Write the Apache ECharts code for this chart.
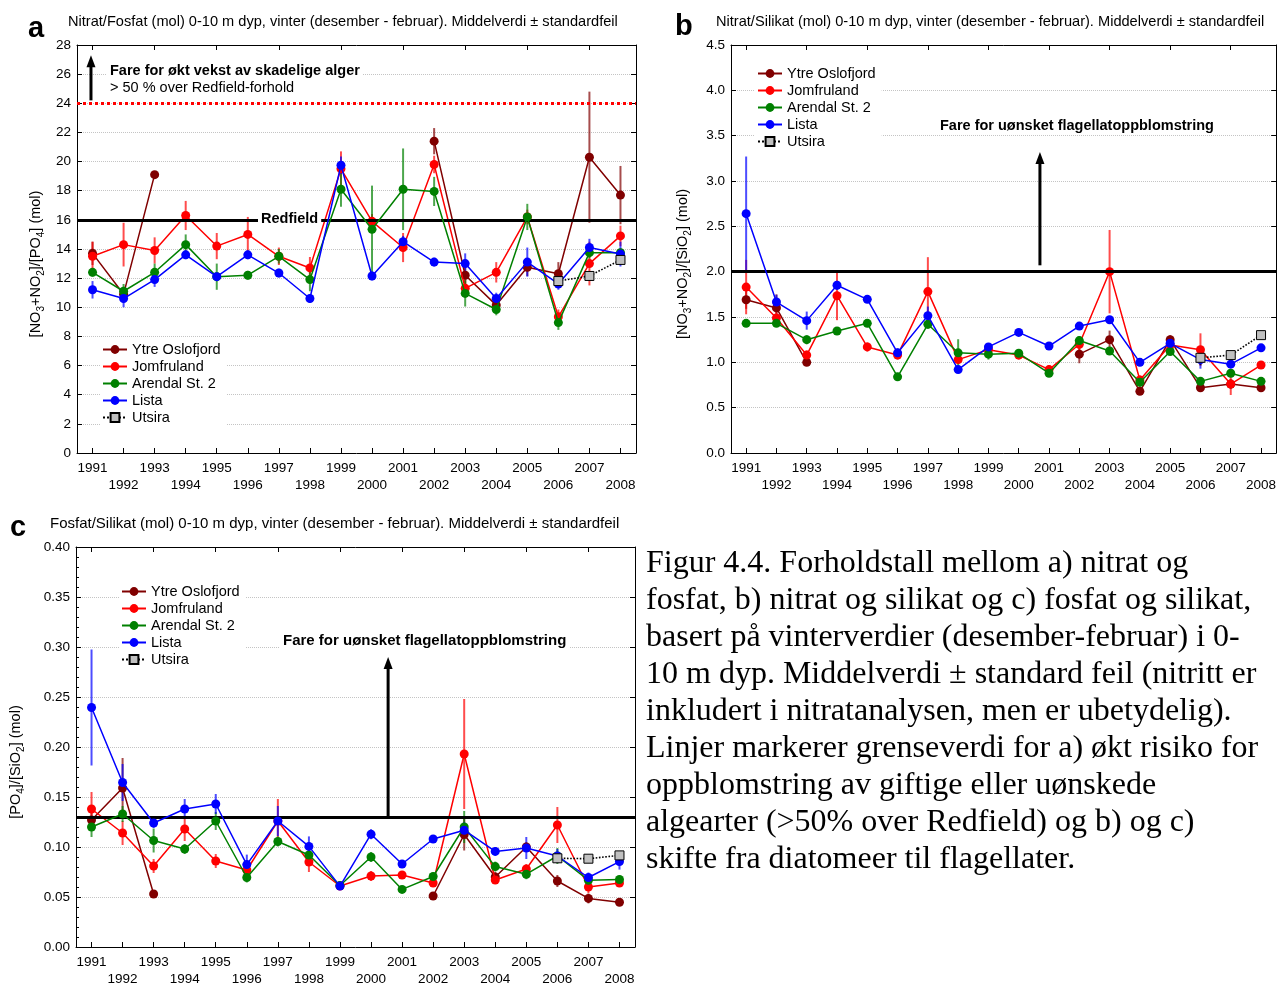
<!DOCTYPE html>
<html>
<head>
<meta charset="utf-8">
<script src="https://cdn.jsdelivr.net/npm/echarts@6/dist/echarts.min.js"></script>
<style>html,body{margin:0;padding:0;background:#fff}#c{width:1279px;height:988px}</style>
</head>
<body>
<div id="c"></div>
<script>
// ---------- data ----------
const years = ['1991','1992','1993','1994','1995','1996','1997','1998','1999','2000','2001','2002','2003','2004','2005','2006','2007','2008'];
const stations = ['Ytre Oslofjord','Jomfruland','Arendal St. 2','Lista','Utsira'];
const N = null;

// Panel a: Nitrat/Fosfat
const a_ytre    = [13.7, 10.9, 19.1, N, N, N, N, N, N, N, N, 21.4, 12.2, 10.15, 12.75, 12.3, 20.3, 17.7];
const a_ytreE   = [0.8, 0.4, 0.2, N, N, N, N, N, N, N, N, 0.9, 0.6, 0.3, 0.6, 0.8, 4.5, 2.0];
const a_jomf    = [13.5, 14.3, 13.9, 16.3, 14.2, 15.0, 13.5, 12.7, 19.5, 15.9, 14.1, 19.8, 11.3, 12.4, 16.2, 9.35, 13.0, 14.9];
const a_jomfE   = [1.0, 1.5, 0.9, 1.0, 0.9, 1.2, 0.6, 0.75, 1.2, 0.5, 1.0, 0.6, 0.6, 0.7, 0.5, 0.5, 1.5, 0.7];
const a_aren    = [12.4, 11.1, 12.4, 14.3, 12.1, 12.2, 13.5, 11.9, 18.1, 15.35, 18.1, 17.95, 10.95, 9.85, 16.2, 8.95, 13.75, 13.75];
const a_arenE   = [0.3, 0.5, 0.6, 0.7, 0.9, 0.3, 0.5, 0.8, 1.2, 3.0, 2.8, 1.0, 0.9, 0.4, 0.9, 0.5, 0.4, 0.3];
const a_lista   = [11.2, 10.6, 11.9, 13.6, 12.1, 13.6, 12.35, 10.6, 19.75, 12.15, 14.5, 13.1, 13.0, 10.6, 13.1, 11.6, 14.1, 13.65];
const a_listaE  = [0.6, 0.6, 0.5, 0.3, 0.3, 0.3, 0.3, 0.3, 0.6, 0.3, 0.4, 0.3, 0.7, 0.4, 1.0, 0.4, 0.6, 0.85];
const a_utsira  = [N, N, N, N, N, N, N, N, N, N, N, N, N, N, N, 11.8, 12.15, 13.25];
const a_utsiraE = [N, N, N, N, N, N, N, N, N, N, N, N, N, N, N, 0.3, 0.2, 0.2];

// Panel b: Nitrat/Silikat
const b_ytre    = [1.69, 1.60, 1.0, N, N, N, N, N, N, N, N, 1.09, 1.25, 0.68, 1.25, 0.72, 0.76, 0.72];
const b_ytreE   = [0.1, 0.15, 0.03, N, N, N, N, N, N, N, N, 0.1, 0.1, 0.03, 0.05, 0.03, 0.05, 0.03];
const b_jomf    = [1.83, 1.49, 1.08, 1.735, 1.17, 1.08, 1.78, 1.03, 1.14, 1.08, 0.92, 1.2, 2.0, 0.805, 1.19, 1.14, 0.76, 0.97];
const b_jomfE   = [0.3, 0.1, 0.05, 0.27, 0.05, 0.05, 0.38, 0.05, 0.05, 0.05, 0.05, 0.07, 0.46, 0.05, 0.05, 0.18, 0.12, 0.04];
const b_aren    = [1.43, 1.43, 1.25, 1.345, 1.43, 0.84, 1.42, 1.105, 1.09, 1.10, 0.88, 1.24, 1.125, 0.78, 1.12, 0.79, 0.88, 0.79];
const b_arenE   = [0.02, 0.03, 0.05, 0.03, 0.03, 0.04, 0.05, 0.15, 0.06, 0.03, 0.03, 0.05, 0.03, 0.05, 0.03, 0.03, 0.03, 0.03];
const b_lista   = [2.64, 1.665, 1.46, 1.85, 1.695, 1.105, 1.515, 0.92, 1.17, 1.33, 1.18, 1.40, 1.47, 1.0, 1.21, 1.03, 0.98, 1.16];
const b_listaE  = [0.63, 0.08, 0.1, 0.05, 0.03, 0.05, 0.1, 0.03, 0.03, 0.02, 0.02, 0.02, 0.03, 0.03, 0.04, 0.1, 0.03, 0.03];
const b_utsira  = [N, N, N, N, N, N, N, N, N, N, N, N, N, N, N, 1.05, 1.08, 1.30];
const b_utsiraE = [N, N, N, N, N, N, N, N, N, N, N, N, N, N, N, 0.08, 0.03, 0.03];

// Panel c: Fosfat/Silikat
const c_ytre    = [0.127, 0.159, 0.053, N, N, N, N, N, N, N, N, 0.051, 0.1125, 0.070, 0.100, 0.066, 0.0486, 0.0447];
const c_ytreE   = [0.01, 0.03, 0.004, N, N, N, N, N, N, N, N, 0.004, 0.016, 0.005, 0.005, 0.006, 0.005, 0.003];
const c_jomf    = [0.138, 0.114, 0.081, 0.118, 0.086, 0.077, 0.126, 0.085, 0.061, 0.071, 0.072, 0.064, 0.193, 0.067, 0.078, 0.122, 0.060, 0.064];
const c_jomfE   = [0.017, 0.012, 0.007, 0.012, 0.007, 0.005, 0.022, 0.01, 0.004, 0.005, 0.004, 0.004, 0.055, 0.004, 0.005, 0.018, 0.006, 0.004];
const c_aren    = [0.120, 0.133, 0.1065, 0.098, 0.126, 0.0695, 0.1055, 0.092, 0.0615, 0.090, 0.0576, 0.0705, 0.120, 0.0804, 0.0728, 0.091, 0.0668, 0.0675];
const c_arenE   = [0.01, 0.008, 0.012, 0.005, 0.009, 0.005, 0.005, 0.005, 0.003, 0.005, 0.003, 0.004, 0.016, 0.005, 0.005, 0.008, 0.004, 0.004];
const c_lista   = [0.2395, 0.1645, 0.124, 0.138, 0.143, 0.0824, 0.126, 0.1006, 0.0609, 0.1128, 0.083, 0.108, 0.1168, 0.0956, 0.099, 0.091, 0.0695, 0.0854];
const c_listaE  = [0.058, 0.0185, 0.005, 0.01, 0.01, 0.01, 0.015, 0.01, 0.003, 0.005, 0.004, 0.004, 0.008, 0.004, 0.011, 0.007, 0.005, 0.008];
const c_utsira  = [N, N, N, N, N, N, N, N, N, N, N, N, N, N, N, 0.0887, 0.0883, 0.0916];
const c_utsiraE = [N, N, N, N, N, N, N, N, N, N, N, N, N, N, N, 0.004, 0.002, 0.002];

// thresholds
const a_redfield = 16, a_danger = 24, b_limit = 2.0, c_limit = 0.128;

const titles = [
  'Nitrat/Fosfat (mol) 0-10 m dyp, vinter (desember - februar). Middelverdi \u00b1 standardfeil',
  'Nitrat/Silikat (mol) 0-10 m dyp, vinter (desember - februar). Middelverdi \u00b1 standardfeil',
  'Fosfat/Silikat (mol) 0-10 m dyp, vinter (desember - februar). Middelverdi \u00b1 standardfeil'
];
const caption = [
  'Figur 4.4. Forholdstall mellom a) nitrat og',
  'fosfat, b) nitrat og silikat og c) fosfat og silikat,',
  'basert p\u00e5 vinterverdier (desember-februar) i 0-',
  '10 m dyp. Middelverdi \u00b1 standard feil (nitritt er',
  'inkludert i nitratanalysen, men er ubetydelig).',
  'Linjer markerer grenseverdi for a) \u00f8kt risiko for',
  'oppblomstring av giftige eller u\u00f8nskede',
  'algearter (>50% over Redfield) og b) og c)',
  'skifte fra diatomeer til flagellater.'
];

// ---------- styling ----------
const colors = ['#800000', '#ff0000', '#008000', '#0000ff', '#000000'];
const FONT = '"Liberation Sans", Arial, sans-serif';

const grids = [
  {left: 77, top: 45, width: 559, height: 408},
  {left: 731, top: 45, width: 547, height: 408},
  {left: 76, top: 547, width: 559, height: 403}
];
const yCfg = [
  {min: 0, max: 28, interval: 2, fmt: v => String(v), gap: 31, name: '[NO{s|3}+NO{s|2}]/[PO{s|4}] (mol)'},
  {min: 0, max: 4.5, interval: 0.5, fmt: v => v.toFixed(1), gap: 38, name: '[NO{s|3}+NO{s|2}]/[SiO{s|2}] (mol)'},
  {min: 0, max: 0.4, interval: 0.05, fmt: v => v.toFixed(2), gap: 50, name: '[PO{s|4}]/[SiO{s|2}] (mol)', minor: true}
];

const xAxes = [], yAxes = [];
grids.forEach((g, i) => {
  xAxes.push({
    gridIndex: i, type: 'category', data: years, boundaryGap: true, position: 'bottom',
    axisLine: {onZero: false, lineStyle: {color: '#000', width: 1}},
    axisTick: {show: true, inside: true, alignWithLabel: true, length: 5, lineStyle: {color: '#000'}},
    axisLabel: {interval: 0, color: '#000', fontSize: 13.5, fontFamily: FONT, margin: 7, lineHeight: 17,
      formatter: (v, idx) => idx % 2 === 0 ? v : '\n' + v},
    splitLine: {show: false}
  });
  xAxes.push({
    gridIndex: i, type: 'category', data: years, boundaryGap: true, position: 'top',
    axisLine: {onZero: false, lineStyle: {color: '#000', width: 1}},
    axisTick: {show: true, inside: true, alignWithLabel: true, length: 5, lineStyle: {color: '#000'}},
    axisLabel: {show: false}, splitLine: {show: false}
  });
  const c = yCfg[i];
  yAxes.push({
    gridIndex: i, type: 'value', min: c.min, max: c.max, interval: c.interval, position: 'left',
    axisLine: {show: true, lineStyle: {color: '#000', width: 1}},
    axisTick: {show: true, inside: true, length: 5, lineStyle: {color: '#000'}},
    minorTick: {show: !!c.minor, splitNumber: 5, length: 3, lineStyle: {color: '#000'}},
    axisLabel: {color: '#000', fontSize: 13.5, fontFamily: FONT, margin: 6, formatter: c.fmt},
    splitLine: {show: true, lineStyle: {color: '#c4c4c4', type: 'dotted', width: 1}},
    name: c.name, nameLocation: 'middle', nameGap: c.gap, nameRotate: 90,
    nameTextStyle: {color: '#000', fontSize: 14.5, fontFamily: FONT, lineHeight: 20, padding: [0, 30, 0, 0],
      rich: {s: {fontSize: 10, lineHeight: 12, verticalAlign: 'bottom', fontFamily: FONT, color: '#000'}}}
  });
  yAxes.push({
    gridIndex: i, type: 'value', min: c.min, max: c.max, interval: c.interval, position: 'right',
    axisLine: {show: true, lineStyle: {color: '#000', width: 1}},
    axisTick: {show: true, inside: true, length: 5, lineStyle: {color: '#000'}},
    axisLabel: {show: false}, splitLine: {show: false}
  });
});

function errSeries(g, vals, errs, color) {
  const data = [];
  vals.forEach((v, i) => { if (v != null && errs[i] != null) data.push([i, v - errs[i], v + errs[i]]); });
  return {
    type: 'custom', xAxisIndex: 2 * g, yAxisIndex: 2 * g, silent: true, z: 2,
    encode: {x: 0, y: [1, 2]}, data: data,
    renderItem: (params, api) => {
      const p1 = api.coord([api.value(0), api.value(1)]);
      const p2 = api.coord([api.value(0), api.value(2)]);
      return {type: 'line', shape: {x1: p1[0], y1: p1[1], x2: p2[0], y2: p2[1]},
        style: {stroke: color, lineWidth: 2, opacity: 0.7}};
    }
  };
}
function lineSeries(g, k, vals, extra) {
  const isUts = k === 4;
  const s = {
    type: 'line', name: stations[k], xAxisIndex: 2 * g, yAxisIndex: 2 * g, data: vals,
    connectNulls: false, symbol: isUts ? 'rect' : 'circle', symbolSize: 9, z: 3 + k,
    lineStyle: {color: colors[k], width: isUts ? 1.6 : 1.5, type: isUts ? 'dotted' : 'solid'},
    itemStyle: isUts ? {color: '#c0c0c0', borderColor: '#000', borderWidth: 1} : {color: colors[k]},
    emphasis: {disabled: true}
  };
  return Object.assign(s, extra || {});
}

const panels = [
  [[a_ytre, a_ytreE], [a_jomf, a_jomfE], [a_aren, a_arenE], [a_lista, a_listaE], [a_utsira, a_utsiraE]],
  [[b_ytre, b_ytreE], [b_jomf, b_jomfE], [b_aren, b_arenE], [b_lista, b_listaE], [b_utsira, b_utsiraE]],
  [[c_ytre, c_ytreE], [c_jomf, c_jomfE], [c_aren, c_arenE], [c_lista, c_listaE], [c_utsira, c_utsiraE]]
];
const markLines = [
  {silent: true, symbol: 'none', label: {show: false}, animation: false,
    data: [{yAxis: a_redfield, lineStyle: {color: '#000', width: 3, type: 'solid'}},
           {yAxis: a_danger, lineStyle: {color: '#ff0000', width: 3, type: 'dotted'}}]},
  {silent: true, symbol: 'none', label: {show: false}, animation: false,
    data: [{yAxis: b_limit, lineStyle: {color: '#000', width: 3, type: 'solid'}}]},
  {silent: true, symbol: 'none', label: {show: false}, animation: false,
    data: [{yAxis: c_limit, lineStyle: {color: '#000', width: 3, type: 'solid'}}]}
];

const series = [];
panels.forEach((p, g) => {
  p.forEach((d, k) => {
    series.push(errSeries(g, d[0], d[1], colors[k]));
    series.push(lineSeries(g, k, d[0], k === 0 ? {markLine: markLines[g]} : null));
  });
});

const legendBase = {orient: 'vertical', itemWidth: 24, itemHeight: 11, itemGap: 2,
  textStyle: {fontSize: 14.5, color: '#000', fontFamily: FONT}, backgroundColor: '#fff',
  padding: [2, 6, 2, 2], data: stations, selectedMode: false};
const legends = [
  Object.assign({left: 100, top: 340}, legendBase),
  Object.assign({left: 755, top: 64}, legendBase),
  Object.assign({left: 119, top: 582}, legendBase)
];

const chart = echarts.init(document.getElementById('c'));
chart.setOption({
  animation: false,
  backgroundColor: '#fff',
  grid: grids,
  xAxis: xAxes,
  yAxis: yAxes,
  legend: legends,
  series: series
});

// ---------- annotations ----------
function px(g, idx, val) {
  const p0 = chart.convertToPixel({xAxisIndex: 2 * g, yAxisIndex: 2 * g}, [Math.floor(idx), val]);
  const p1 = chart.convertToPixel({xAxisIndex: 2 * g, yAxisIndex: 2 * g}, [Math.floor(idx) + 1, val]);
  const f = idx - Math.floor(idx);
  return [p0[0] + f * (p1[0] - p0[0]), p0[1]];
}
function arrow(g, idx, v0, v1) {
  const a = px(g, idx, v0), b = px(g, idx, v1);
  return [
    {type: 'line', z: 100, shape: {x1: a[0], y1: a[1], x2: b[0], y2: b[1] + 10}, style: {stroke: '#000', lineWidth: 3}},
    {type: 'polygon', z: 100, shape: {points: [[b[0], b[1]], [b[0] - 4.5, b[1] + 12], [b[0] + 4.5, b[1] + 12]]}, style: {fill: '#000'}}
  ];
}
function txt(x, y, s, font, bg) {
  const st = {text: s, font: font, fill: '#000'};
  if (bg) { st.backgroundColor = '#fff'; st.padding = [1, 3]; }
  return {type: 'text', z: 100, left: x, top: y, style: st};
}
const graphics = [].concat(
  arrow(0, -0.05, 24.2, 27.3),
  arrow(1, 9.7, 2.07, 3.32),
  arrow(2, 9.55, 0.129, 0.29),
  [
    txt(28, 14, 'a', 'bold 29px ' + FONT),
    txt(675, 12, 'b', 'bold 29px ' + FONT),
    txt(10, 513, 'c', 'bold 29px ' + FONT),
    txt(68, 14, titles[0], '14.6px ' + FONT),
    txt(716, 14, titles[1], '14.6px ' + FONT),
    txt(50, 516, titles[2], '15px ' + FONT),
    txt(107, 62, 'Fare for \u00f8kt vekst av skadelige alger', 'bold 14.5px ' + FONT, true),
    txt(107, 79, '> 50 % over Redfield-forhold', '14.5px ' + FONT, true),
    txt(258, 210, 'Redfield', 'bold 14.5px ' + FONT, true),
    txt(937, 117, 'Fare for u\u00f8nsket flagellatoppblomstring', 'bold 14.5px ' + FONT, true),
    txt(280, 632, 'Fare for u\u00f8nsket flagellatoppblomstring', 'bold 15px ' + FONT, true),
    {type: 'text', z: 100, left: 646, top: 545,
      style: {text: caption.join('\n'), font: '32px "Liberation Serif", "Times New Roman", serif', lineHeight: 37, fill: '#000'}}
  ]
);
chart.setOption({graphic: graphics});
</script>
</body>
</html>
